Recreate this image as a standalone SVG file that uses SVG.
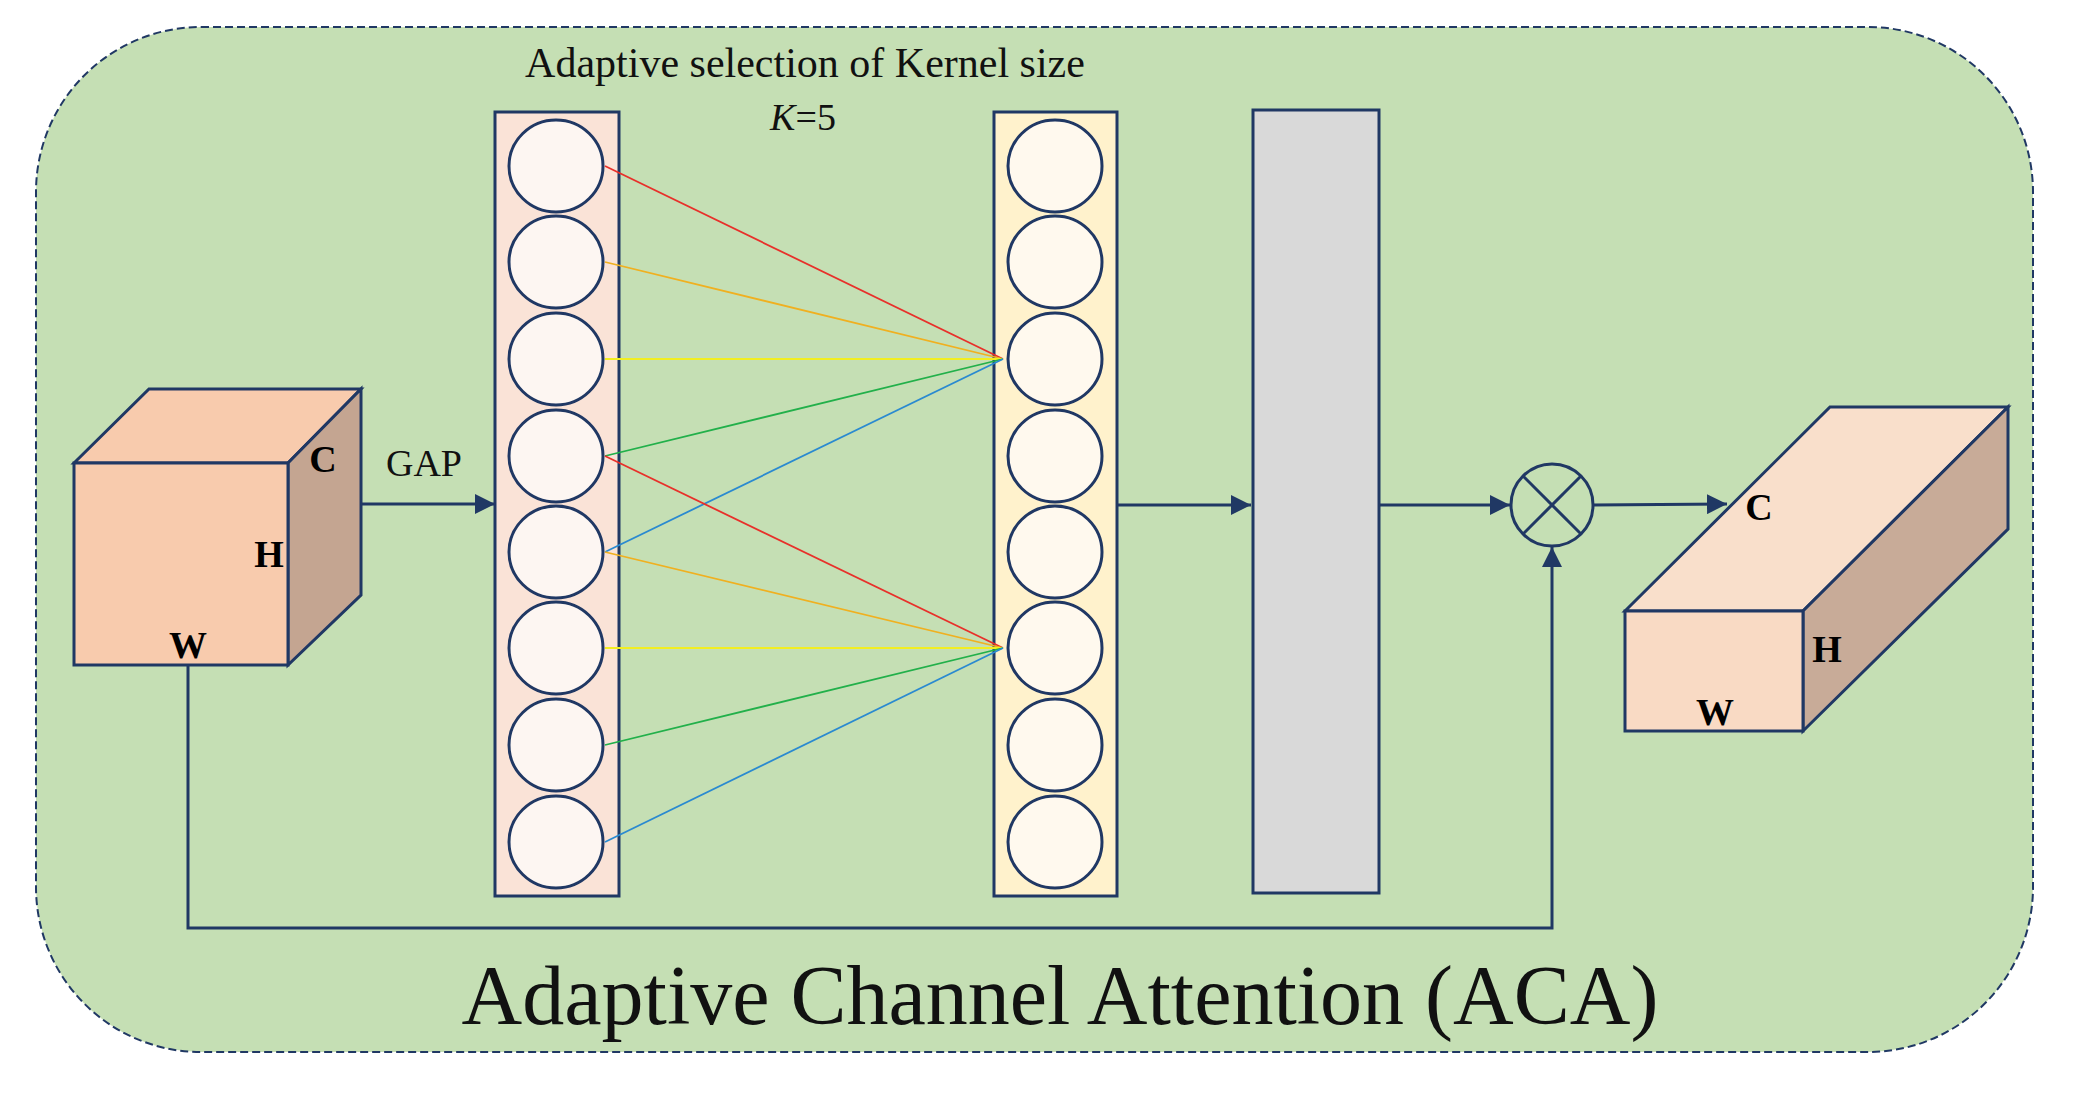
<svg xmlns="http://www.w3.org/2000/svg" width="2073" height="1102" viewBox="0 0 2073 1102">
<style>
.s{stroke:#203864;stroke-width:3}
.c1{fill:#fdf6f2;stroke:#203864;stroke-width:3}
.c2{fill:#fff9ee;stroke:#203864;stroke-width:3}
.lbl{font-family:"Liberation Serif",serif;font-weight:bold;font-size:38px;fill:#000}
.t{font-family:"Liberation Serif",serif;fill:#111}
.ln{stroke-width:1.8;fill:none}
.ar{stroke:#203864;stroke-width:3;fill:none}
</style>
<defs>
<marker id="a" viewBox="0 0 10 10" refX="10" refY="5" markerWidth="20" markerHeight="20" markerUnits="userSpaceOnUse" orient="auto"><path d="M0,0 L10,5 L0,10 z" fill="#203864"/></marker>
</defs>
<rect x="36" y="27" width="1997" height="1025" rx="165" fill="#c5dfb4" stroke="#203864" stroke-width="2" stroke-dasharray="8,4"/>
<text class="t" x="805" y="77" font-size="42" text-anchor="middle">Adaptive selection of Kernel size</text>
<text class="t" x="803" y="130" font-size="38" text-anchor="middle"><tspan font-style="italic">K</tspan>=5</text>
<g id="input-cube">
<polygon class="s" points="74,463 149,389 361,389 288,463" fill="#f8cbad"/>
<polygon class="s" points="288,463 361,389 361,595 288,665" fill="#c4a591"/>
<rect class="s" x="74" y="463" width="214" height="202" fill="#f8cbad"/>
<text class="lbl" x="323" y="472" text-anchor="middle">C</text>
<text class="lbl" x="269" y="567" text-anchor="middle">H</text>
<text class="lbl" x="188" y="658" text-anchor="middle">W</text>
</g>
<g id="col1">
<rect class="s" x="495" y="112" width="124" height="784" fill="#fae3d7"/>
<ellipse class="c1" cx="556" cy="166" rx="47" ry="46"/>
<ellipse class="c1" cx="556" cy="262" rx="47" ry="46"/>
<ellipse class="c1" cx="556" cy="359" rx="47" ry="46"/>
<ellipse class="c1" cx="556" cy="456" rx="47" ry="46"/>
<ellipse class="c1" cx="556" cy="552" rx="47" ry="46"/>
<ellipse class="c1" cx="556" cy="648" rx="47" ry="46"/>
<ellipse class="c1" cx="556" cy="745" rx="47" ry="46"/>
<ellipse class="c1" cx="556" cy="842" rx="47" ry="46"/>
</g>
<g id="col2">
<rect class="s" x="994" y="112" width="123" height="784" fill="#fff2cc"/>
<ellipse class="c2" cx="1055" cy="166" rx="47" ry="46"/>
<ellipse class="c2" cx="1055" cy="262" rx="47" ry="46"/>
<ellipse class="c2" cx="1055" cy="359" rx="47" ry="46"/>
<ellipse class="c2" cx="1055" cy="456" rx="47" ry="46"/>
<ellipse class="c2" cx="1055" cy="552" rx="47" ry="46"/>
<ellipse class="c2" cx="1055" cy="648" rx="47" ry="46"/>
<ellipse class="c2" cx="1055" cy="745" rx="47" ry="46"/>
<ellipse class="c2" cx="1055" cy="842" rx="47" ry="46"/>
</g>
<g id="gray-bar">
<rect class="s" x="1253" y="110" width="126" height="783" fill="#d9d9d9"/>
</g>
<g id="multiply">
<circle class="s" cx="1552" cy="505" r="41" fill="none"/>
<line class="s" x1="1523" y1="476" x2="1581" y2="534"/>
<line class="s" x1="1581" y1="476" x2="1523" y2="534"/>
</g>
<g id="output-box">
<polygon class="s" points="1625,611 1830,407 2008,407 1803,611" fill="#f9dfcb"/>
<polygon class="s" points="1803,611 2008,407 2008,529 1803,731" fill="#c8ab98"/>
<rect class="s" x="1625" y="611" width="178" height="120" fill="#f9dac4"/>
<text class="lbl" x="1759" y="520" text-anchor="middle">C</text>
<text class="lbl" x="1827" y="662" text-anchor="middle">H</text>
<text class="lbl" x="1715" y="725" text-anchor="middle">W</text>
</g>
<g id="connectors">
<line class="ln" stroke="#e8302a" x1="605" y1="166" x2="1003" y2="359"/>
<line class="ln" stroke="#f0b020" x1="605" y1="262" x2="1003" y2="359"/>
<line class="ln" stroke="#f2ee20" x1="605" y1="359" x2="1003" y2="359"/>
<line class="ln" stroke="#22b04a" x1="605" y1="456" x2="1003" y2="359"/>
<line class="ln" stroke="#2a8ad0" x1="605" y1="552" x2="1003" y2="359"/>
<line class="ln" stroke="#e8302a" x1="605" y1="456" x2="1003" y2="648"/>
<line class="ln" stroke="#f0b020" x1="605" y1="552" x2="1003" y2="648"/>
<line class="ln" stroke="#f2ee20" x1="605" y1="648" x2="1003" y2="648"/>
<line class="ln" stroke="#22b04a" x1="605" y1="745" x2="1003" y2="648"/>
<line class="ln" stroke="#2a8ad0" x1="605" y1="842" x2="1003" y2="648"/>
<line class="ar" x1="361" y1="504" x2="495" y2="504" marker-end="url(#a)"/>
<line class="ar" x1="1117" y1="505" x2="1251" y2="505" marker-end="url(#a)"/>
<line class="ar" x1="1379" y1="505" x2="1510" y2="505" marker-end="url(#a)"/>
<line class="ar" x1="1593" y1="505" x2="1727" y2="504" marker-end="url(#a)"/>
<polyline class="ar" points="188,665 188,928 1552,928 1552,547" marker-end="url(#a)"/>
</g>
<text class="t" x="424" y="476" font-size="38" text-anchor="middle">GAP</text>
<text class="t" x="1060" y="1024" font-size="84" text-anchor="middle">Adaptive Channel Attention (ACA)</text>
</svg>
